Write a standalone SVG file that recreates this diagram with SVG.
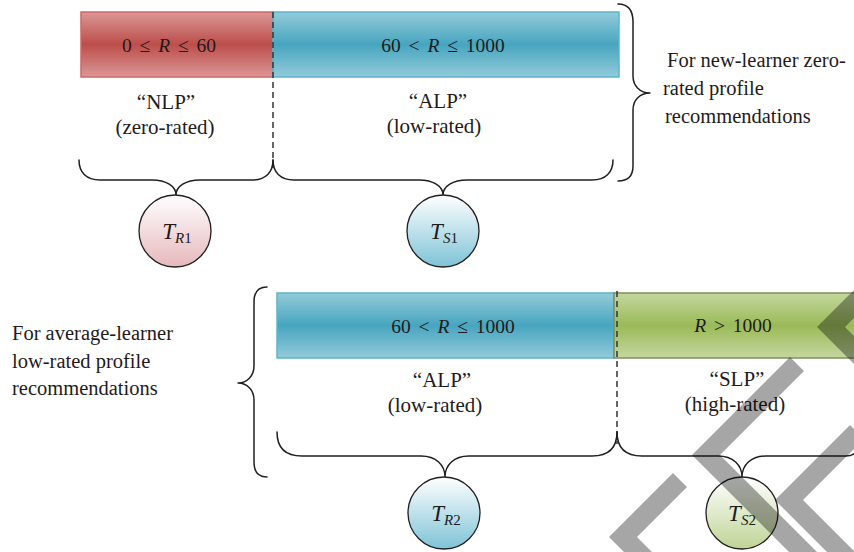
<svg xmlns="http://www.w3.org/2000/svg" width="854" height="552" viewBox="0 0 854 552">
  <style>
    text { font-family: "Liberation Serif", "Times New Roman", serif; fill: #1f1b1c; }
    .bar-text { font-size: 19.5px; word-spacing: 3px; }
    .label { font-size: 21px; text-anchor: middle; }
    .side { font-size: 20.5px; }
    .node-text { font-size: 23px; text-anchor: middle; }
    .sub { font-size: 15px; }
    .it { font-style: italic; }
    .brace { fill: none; stroke: #231f20; stroke-width: 1.5; stroke-linecap: round; stroke-linejoin: round; }
    .divider { fill: none; stroke: #333; stroke-width: 1.5; stroke-dasharray: 6 4; }
    .node { stroke: #231f20; stroke-width: 1.3; }
    .band { fill: #000; fill-opacity: 0.35; }
  </style>
  <defs>
    <linearGradient id="gRed" x1="0" y1="0" x2="0" y2="1">
      <stop offset="0" stop-color="#da9796"/>
      <stop offset="0.5" stop-color="#bd4e4b"/>
      <stop offset="1" stop-color="#da9796"/>
    </linearGradient>
    <linearGradient id="gBlue" x1="0" y1="0" x2="0" y2="1">
      <stop offset="0" stop-color="#93cbda"/>
      <stop offset="0.5" stop-color="#47a5bf"/>
      <stop offset="1" stop-color="#93cbda"/>
    </linearGradient>
    <linearGradient id="gGreen" x1="0" y1="0" x2="0" y2="1">
      <stop offset="0" stop-color="#c4d79f"/>
      <stop offset="0.5" stop-color="#9aba58"/>
      <stop offset="1" stop-color="#c4d79f"/>
    </linearGradient>
    <linearGradient id="cRed" x1="0" y1="0" x2="0" y2="1">
      <stop offset="0" stop-color="#ffffff"/>
      <stop offset="1" stop-color="#e6b8bc"/>
    </linearGradient>
    <linearGradient id="cBlue" x1="0" y1="0" x2="0" y2="1">
      <stop offset="0" stop-color="#ffffff"/>
      <stop offset="1" stop-color="#7ec3d7"/>
    </linearGradient>
    <linearGradient id="cGreen" x1="0" y1="0" x2="0" y2="1">
      <stop offset="0" stop-color="#ffffff"/>
      <stop offset="1" stop-color="#bfd496"/>
    </linearGradient>
  </defs>

  <!-- rating bands, upper row -->
  <g id="bar-nlp">
    <rect x="81" y="12" width="192" height="65" fill="url(#gRed)" stroke="#cd6866" stroke-width="1.5"/>
    <text class="bar-text" x="169" y="52" text-anchor="middle">0 ≤ <tspan class="it">R</tspan> ≤ 60</text>
    <text class="label" x="166" y="109">“NLP”</text>
    <text class="label" x="165" y="134">(zero-rated)</text>
  </g>
  <g id="bar-alp-1">
    <rect x="273" y="12" width="346" height="65" fill="url(#gBlue)" stroke="#5bb5cc" stroke-width="1.5"/>
    <text class="bar-text" x="443" y="52" text-anchor="middle">60 &lt; <tspan class="it">R</tspan> ≤ 1000</text>
    <text class="label" x="438" y="108">“ALP”</text>
    <text class="label" x="434" y="133">(low-rated)</text>
  </g>

  <!-- rating bands, lower row -->
  <g id="bar-alp-2">
    <rect x="277" y="293" width="337" height="65" fill="url(#gBlue)" stroke="#5bb5cc" stroke-width="1.5"/>
    <text class="bar-text" x="453" y="333" text-anchor="middle">60 &lt; <tspan class="it">R</tspan> ≤ 1000</text>
    <text class="label" x="442" y="387">“ALP”</text>
    <text class="label" x="435" y="412">(low-rated)</text>
  </g>
  <g id="bar-slp">
    <rect x="614" y="293" width="250" height="65" fill="url(#gGreen)" stroke="#7d8f5e" stroke-width="1.5"/>
    <text class="bar-text" x="733" y="332" text-anchor="middle"><tspan class="it">R</tspan> &gt; 1000</text>
    <text class="label" x="737" y="386">“SLP”</text>
    <text class="label" x="735" y="411">(high-rated)</text>
  </g>

  <!-- group captions -->
  <g id="caption-new-learner">
    <text class="side" x="667" y="67">For new-learner zero-</text>
    <text class="side" x="663" y="95">rated profile</text>
    <text class="side" x="665" y="123">recommendations</text>
  </g>
  <g id="caption-average-learner">
    <text class="side" x="12" y="340">For average-learner</text>
    <text class="side" x="12" y="368">low-rated profile</text>
    <text class="side" x="12" y="395">recommendations</text>
  </g>

  <!-- braces and dividers -->
  <g id="connectors">
    <path class="divider" d="M273,12 V172"/>
    <path class="divider" d="M617,291 V444"/>
    <path class="brace" d="M79,160 C79,172 86,180 100,180 L152,180 C166,180 176,186 176,195 C176,186 186,180 200,180 L252,180 C266,180 273,172 273,160"/>
    <path class="brace" d="M273,160 C273,172 280,180 294,180 L419,180 C433,180 443,186 443,195 C443,186 453,180 467,180 L592,180 C606,180 613,172 613,160"/>
    <path class="brace" d="M618,4 C628,4 633,10 633,22 L633,76 C633,86 640,93 650,93 C640,93 633,100 633,110 L633,166 C633,176 628,181 618,181"/>
    <path class="brace" d="M267,287 C259,287 254,292 254,302 L254,366 C254,376 247,383 238,383 C247,383 254,390 254,400 L254,462 C254,472 259,477 267,477"/>
    <path class="brace" d="M277,432 C277,447 285,456 302,456 L421,456 C436,456 445,465 445,477 C445,465 454,456 469,456 L592,456 C609,456 617,447 617,432"/>
    <path class="brace" d="M617,432 C617,447 625,456 642,456 L718,456 C733,456 742,465 742,477 C742,465 751,456 766,456 L846,456 C856,456 862,448 862,432"/>
  </g>

  <!-- threshold nodes -->
  <g id="node-tr1">
    <circle class="node" cx="175" cy="231" r="36" fill="url(#cRed)"/>
    <text class="node-text" x="177" y="239"><tspan class="it">T</tspan><tspan class="sub" dy="4"><tspan class="it">R</tspan>1</tspan></text>
  </g>
  <g id="node-ts1">
    <circle class="node" cx="443" cy="231" r="36" fill="url(#cBlue)"/>
    <text class="node-text" x="444" y="239"><tspan class="it">T</tspan><tspan class="sub" dy="4"><tspan class="it">S</tspan>1</tspan></text>
  </g>
  <g id="node-tr2">
    <circle class="node" cx="444" cy="513" r="36" fill="url(#cBlue)"/>
    <text class="node-text" x="446" y="521"><tspan class="it">T</tspan><tspan class="sub" dy="4"><tspan class="it">R</tspan>2</tspan></text>
  </g>
  <g id="node-ts2">
    <circle class="node" cx="742" cy="513" r="36" fill="url(#cGreen)"/>
    <text class="node-text" x="742" y="521"><tspan class="it">T</tspan><tspan class="sub" dy="4"><tspan class="it">S</tspan>2</tspan></text>
  </g>

  <!-- translucent chevron overlay -->
  <g id="overlay">
    <polygon class="band" points="917,227 945,227 845,327 945,427 917,427 817,327"/>
    <polygon class="band" points="790,357 804,371 720,455 820,555 792,555 692,455"/>
    <polygon class="band" points="850,425 864,439 803,500 860,557 832,557 775,500"/>
    <polygon class="band" points="673,473 687,487 637,537 660,560 632,560 609,537"/>
  </g>
</svg>
